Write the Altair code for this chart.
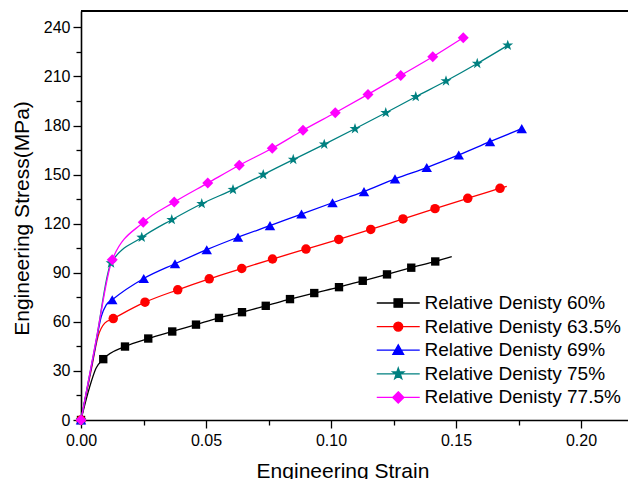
import altair as alt
import pandas as pd

# ---- data ----
series_names = ["Relative Denisty 60%", "Relative Denisty 63.5%", "Relative Denisty 69%",
                "Relative Denisty 75%", "Relative Denisty 77.5%"]
series_colors = ["#000000", "#FF0000", "#0000FF", "#008080", "#FF00FF"]

# marker points (strain, stress)
m60_x = [0.0, 0.0089, 0.0176, 0.0269, 0.0365, 0.0460, 0.0552, 0.0644, 0.0739, 0.0836, 0.0933, 0.1032, 0.1127, 0.1224, 0.1321, 0.1417]
m60_y = [0.0, 37.2, 44.9, 49.8, 54.1, 58.3, 62.4, 65.9, 69.8, 73.9, 77.6, 81.2, 85.1, 89.0, 93.1, 96.9]
m635_x = [0.0, 0.0129, 0.0256, 0.0387, 0.0513, 0.0643, 0.0766, 0.0900, 0.1031, 0.1159, 0.1288, 0.1416, 0.1547, 0.1676]
m635_y = [0.0, 62.0, 72.0, 79.6, 86.3, 92.6, 98.4, 104.5, 110.4, 116.5, 122.9, 129.2, 135.5, 141.6]
m69_x = [0.0, 0.0125, 0.0251, 0.0376, 0.0503, 0.0628, 0.0756, 0.0882, 0.1006, 0.1132, 0.1256, 0.1383, 0.1511, 0.1636, 0.1763]
m69_y = [0.0, 73.5, 86.5, 95.5, 104.1, 111.7, 118.8, 125.9, 132.8, 139.6, 147.4, 154.3, 162.0, 170.1, 178.1]
m75_x = [0.0, 0.0120, 0.0243, 0.0363, 0.0483, 0.0608, 0.0729, 0.0849, 0.0973, 0.1096, 0.1219, 0.1339, 0.1460, 0.1585, 0.1707]
m75_y = [0.0, 95.9, 111.6, 122.4, 132.2, 140.8, 150.0, 159.2, 168.5, 178.0, 187.8, 197.6, 207.2, 217.9, 229.0]
m775_x = [0.0, 0.0125, 0.0249, 0.0373, 0.0507, 0.0633, 0.0765, 0.0888, 0.1017, 0.1148, 0.1279, 0.1407, 0.1529]
m775_y = [0.0, 98.0, 120.8, 133.2, 144.8, 155.7, 166.1, 177.1, 187.8, 199.0, 210.6, 222.0, 233.7]

# extra curve points (no marker)
c60_x = [0.0035, 0.0060, 0.1483]
c60_y = [20.4, 31.6, 99.8]
c635_x = [0.0041, 0.0068, 0.0095, 0.1703]
c635_y = [30.6, 51.0, 59.2, 142.8]
c69_x = [0.0055, 0.0081, 0.0101]
c69_y = [42.9, 63.2, 70.4]
c75_x = [0.0060]
c75_y = [48.0]
c775_x = [0.0060]
c775_y = [48.5]

markers = [(m60_x, m60_y), (m635_x, m635_y), (m69_x, m69_y), (m75_x, m75_y), (m775_x, m775_y)]
curves = [(c60_x, c60_y), (c635_x, c635_y), (c69_x, c69_y), (c75_x, c75_y), (c775_x, c775_y)]

x_ticks = [0.0, 0.025, 0.05, 0.075, 0.10, 0.125, 0.15, 0.175, 0.20]
y_ticks = [0, 15, 30, 45, 60, 75, 90, 105, 120, 135, 150, 165, 180, 195, 210, 225, 240]
x_max = 0.2188
y_max = 250

rows = []
for name, (mx, my), (cx, cy) in zip(series_names, markers, curves):
    for a, b in zip(mx, my):
        rows.append({"series": name, "strain": a, "stress": b, "kind": "marker"})
    for a, b in zip(cx, cy):
        rows.append({"series": name, "strain": a, "stress": b, "kind": "curve"})
df = pd.DataFrame(rows)

FONT = "Liberation Sans"

point_shapes = [
    "square", "circle", "triangle-up",
    "M0,-1L0.2351,-0.3236L0.9511,-0.3090L0.3804,0.1236L0.5878,0.8090L0,0.4L-0.5878,0.8090L-0.3804,0.1236L-0.9511,-0.3090L-0.2351,-0.3236Z",
    "diamond",
]
point_sizes = [70, 90, 110, 130, 121]

legend_paths = [
    "M-2,0H2M-0.39,-0.39H0.39V0.39H-0.39Z",
    "M-2,0H2M0.42,0A0.42,0.42 0 1,1 -0.42,0A0.42,0.42 0 1,1 0.42,0Z",
    "M-2,0H2M0,-0.5L0.5,0.38H-0.5Z",
    "M-2,0H2M0,-0.55L0.1293,-0.178L0.5231,-0.17L0.2092,0.068L0.3233,0.445L0,0.22L-0.3233,0.445L-0.2092,0.068L-0.5231,-0.17L-0.1293,-0.178Z",
    "M-2,0H2M0,-0.52L0.52,0L0,0.52L-0.52,0Z",
]

x_axis = alt.Axis(
    orient="bottom",
    values=x_ticks,
    labelExpr="round(datum.value*1000) % 50 === 0 ? format(datum.value, '.2f') : ''",
    tickSize={"condition": {"test": "round(datum.value*1000) % 50 === 0", "value": 8}, "value": 5},
    title="Engineering Strain", titleX=261.5, titleY=57, titleBaseline="alphabetic",
    titleAlign="center", titleAnchor="start", labelFlush=False,
    labelFontSize=16, titleFontSize=21, labelPadding=4, grid=False,
)
y_axis = alt.Axis(
    orient="left",
    values=y_ticks,
    labelExpr="datum.value % 30 === 0 ? datum.label : ''",
    tickSize={"condition": {"test": "datum.value % 30 === 0", "value": 8}, "value": 5},
    title="Engineering Stress(MPa)", titleAngle=270, titleX=-53, titleY=207,
    titleBaseline="alphabetic", titleAlign="center", titleAnchor="start", labelFlush=False,
    labelFontSize=16, titleFontSize=21, labelPadding=3, grid=False,
)
x_scale = alt.Scale(domain=[0, x_max], nice=False, zero=False)
y_scale = alt.Scale(domain=[0, y_max], nice=False)
x_enc = alt.X("strain:Q", scale=x_scale, axis=x_axis)
y_enc = alt.Y("stress:Q", scale=y_scale, axis=y_axis)

lines = alt.Chart(df).mark_line(interpolate="monotone", strokeWidth=1.3).encode(
    x=x_enc, y=y_enc,
    color=alt.Color("series:N", scale=alt.Scale(domain=series_names, range=series_colors), legend=None),
    detail="series:N",
)

layers = [lines]
for name, col, shp, sz in zip(series_names, series_colors, point_shapes, point_sizes):
    layers.append(
        alt.Chart(df)
        .transform_filter((alt.datum.series == name) & (alt.datum.kind == "marker"))
        .mark_point(shape=shp, filled=True, size=sz, color=col, opacity=1)
        .encode(x=x_enc, y=y_enc)
    )

leg = alt.Legend(
    title=None, orient="none", legendX=305.75, legendY=280.5, symbolSize=462,
    labelOffset=14.75, labelFontSize=19, labelFont=FONT, labelColor="#000000",
    rowPadding=1.6, padding=0, symbolStrokeWidth=1.3, symbolOpacity=1, labelLimit=400,
)
# invisible marks that only carry the legend (line + marker symbols)
legend_layer = (
    alt.Chart(df)
    .transform_filter(alt.datum.kind == "marker")
    .mark_point(filled=True, opacity=0, strokeWidth=1.3)
    .encode(
        x=x_enc, y=y_enc,
        fill=alt.Fill("series:N", scale=alt.Scale(domain=series_names, range=series_colors), legend=leg),
        stroke=alt.Stroke("series:N", scale=alt.Scale(domain=series_names, range=series_colors), legend=leg),
        shape=alt.Shape("series:N", scale=alt.Scale(domain=series_names, range=legend_paths), legend=leg),
    )
)

# top frame line of the plot box
frame_top = alt.Chart(df).mark_rule(color="#000000", strokeWidth=1.6).encode(
    x=alt.datum(0.0, scale=x_scale, axis=x_axis),
    x2=alt.datum(x_max),
    y=alt.datum(y_max, scale=y_scale, axis=y_axis),
)

chart = (
    alt.layer(legend_layer, *layers, frame_top)
    .properties(
        width=547, height=409,
        autosize=alt.AutoSizeParams(type="none"),
        padding={"left": 81, "top": 11, "right": 0, "bottom": 59},
        background="white",
    )
    .configure_view(stroke=None)
    .configure_axis(
        labelFont=FONT, titleFont=FONT, labelColor="#000000", titleColor="#000000",
        domainColor="#000000", domainWidth=1.6, tickColor="#000000", tickWidth=1.3,
        titleFontWeight="normal",
    )
    .configure_legend(labelFont=FONT)
)

chart.save("out.html", embed_options={"renderer": "svg", "actions": False})
